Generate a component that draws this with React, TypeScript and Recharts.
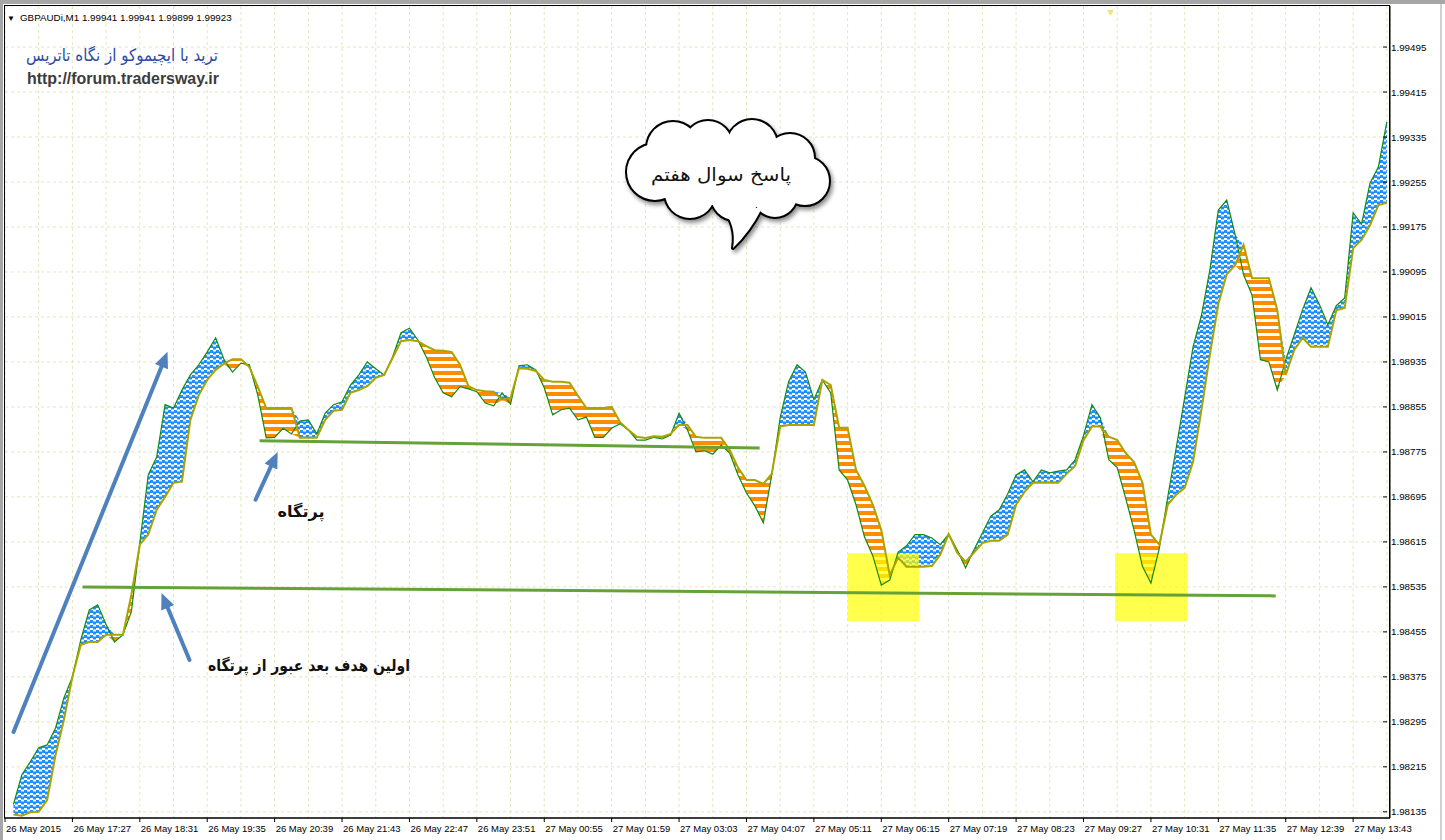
import {
  Area,
  CartesianGrid,
  ComposedChart,
  Line,
  ReferenceArea,
  ReferenceLine,
  XAxis,
  YAxis,
} from 'recharts';

// one sample every 8 one-minute bars
const SAMPLE_STEP = 8;

// green line (tenkan), samples 1..164
const tenkan = [
  1.98148, 1.98201, 1.98224, 1.98249, 1.98254, 1.98284, 1.98338, 1.98375,
  1.98441, 1.98494, 1.98503, 1.98468, 1.98437, 1.9845, 1.98491, 1.98613,
  1.98734, 1.98766, 1.98859, 1.98853, 1.98885, 1.98912, 1.9893, 1.98953,
  1.98978, 1.98939, 1.98917, 1.98933, 1.9893, 1.98876, 1.988, 1.98801,
  1.98817, 1.98807, 1.9883, 1.98832, 1.98807, 1.98844, 1.98859, 1.98864,
  1.98894, 1.98912, 1.98935, 1.98923, 1.98912, 1.98944, 1.98987, 1.98995,
  1.98974, 1.98944, 1.98907, 1.9888, 1.98873, 1.98891, 1.98887, 1.98882,
  1.98862, 1.98857, 1.9888, 1.9886, 1.98928, 1.9893, 1.98921, 1.98889,
  1.98841, 1.9885, 1.98853, 1.98832, 1.98837, 1.98801, 1.98801, 1.98817,
  1.98825, 1.98814, 1.98796, 1.98796, 1.98801, 1.98798, 1.98805, 1.98844,
  1.98814, 1.98775, 1.98777, 1.98771, 1.98787, 1.98773, 1.98734, 1.98702,
  1.98679, 1.98649, 1.98734, 1.98836, 1.989, 1.9893, 1.98917, 1.98868,
  1.98903, 1.9888, 1.98743, 1.98725, 1.98681, 1.98624, 1.9859, 1.98538,
  1.98547, 1.98597, 1.98608, 1.98628, 1.98628, 1.98622, 1.9861, 1.98629,
  1.98601, 1.98569, 1.98601, 1.98631, 1.98661, 1.98672, 1.987, 1.98734,
  1.98743, 1.98722, 1.98743, 1.98738, 1.98741, 1.98743, 1.98761, 1.98804,
  1.98859, 1.98836, 1.98761, 1.98747, 1.98693, 1.98636, 1.98571, 1.98542,
  1.98604, 1.98695, 1.98782, 1.98871, 1.98962, 1.99018, 1.99099, 1.99205,
  1.99223, 1.99161, 1.9909, 1.99054, 1.98939, 1.98935, 1.98885, 1.98939,
  1.98983, 1.99028, 1.99067, 1.99037, 1.99001, 1.99035, 1.99049, 1.992,
  1.9918, 1.99253, 1.99282, 1.99362,
];

// olive line (kijun), same samples
const kijun = [
  1.9813, 1.98128, 1.98134, 1.98135, 1.98156, 1.98236, 1.98299, 1.98375,
  1.98432, 1.98437, 1.98437, 1.9845, 1.9845, 1.9845, 1.98521, 1.9861,
  1.98628, 1.98672, 1.98695, 1.9872, 1.98722, 1.98832, 1.98876, 1.98903,
  1.98921, 1.98932, 1.9894, 1.9894, 1.98926, 1.98891, 1.98853, 1.98853,
  1.98853, 1.98853, 1.988, 1.988, 1.988, 1.98832, 1.98848, 1.9885,
  1.9888, 1.98885, 1.98892, 1.98907, 1.98912, 1.98942, 1.98972, 1.98974,
  1.98972, 1.98963, 1.98956, 1.98955, 1.98953, 1.9893, 1.98892, 1.98885,
  1.98883, 1.98882, 1.98868, 1.98871, 1.98924, 1.98923, 1.98919, 1.98903,
  1.989, 1.989, 1.98898, 1.98875, 1.98853, 1.98853, 1.98853, 1.98855,
  1.98828, 1.98814, 1.98802, 1.988, 1.98803, 1.98802, 1.98807, 1.98823,
  1.98823, 1.98802, 1.988, 1.988, 1.988, 1.98779, 1.98747, 1.98725,
  1.98725, 1.98718, 1.98736, 1.9882, 1.98823, 1.98823, 1.98823, 1.98823,
  1.98903, 1.98894, 1.98818, 1.98818, 1.98743, 1.98715, 1.98681, 1.98636,
  1.98556, 1.98587, 1.98571, 1.98571, 1.98571, 1.98572, 1.98592, 1.98629,
  1.98596, 1.9858, 1.98596, 1.98613, 1.98617, 1.98617, 1.98628, 1.98681,
  1.98704, 1.9872, 1.9872, 1.9872, 1.9872, 1.98736, 1.9875, 1.98796,
  1.9882, 1.9882, 1.98802, 1.98796, 1.98773, 1.98757, 1.9872, 1.98628,
  1.9861, 1.98681, 1.98699, 1.98711, 1.98757, 1.9885, 1.98948, 1.99038,
  1.99091, 1.99107, 1.99143, 1.99084, 1.99084, 1.99084, 1.99027, 1.98912,
  1.98956, 1.98978, 1.98962, 1.98962, 1.98962, 1.99027, 1.99031, 1.99137,
  1.99152, 1.99178, 1.99214, 1.99218,
];

const timeLabels = [
  '26 May 2015', '26 May 17:27', '26 May 18:31', '26 May 19:35', '26 May 20:39',
  '26 May 21:43', '26 May 22:47', '26 May 23:51', '27 May 00:55', '27 May 01:59',
  '27 May 03:03', '27 May 04:07', '27 May 05:11', '27 May 06:15', '27 May 07:19',
  '27 May 08:23', '27 May 09:27', '27 May 10:31', '27 May 11:35', '27 May 12:39',
  '27 May 13:43',
];

const priceTicks = [
  1.98135, 1.98215, 1.98295, 1.98375, 1.98455, 1.98535, 1.98615, 1.98695, 1.98775,
  1.98855, 1.98935, 1.99015, 1.99095, 1.99175, 1.99255, 1.99335, 1.99415, 1.99495,
];

// drawn objects on the chart, in bar / price units
const levelLines = [
  { from: [241.7, 1.98795], to: [716.5, 1.98782] },
  { from: [73.6, 1.98535], to: [1206.5, 1.98519] },
];
const arrows = [
  { from: [8.1, 1.98277], to: [154.3, 1.98953] },
  { from: [237.9, 1.9869], to: [258.9, 1.98775] },
  { from: [175.2, 1.98405], to: [148.6, 1.98524] },
];
const focusZones = [
  { x1: 800, x2: 868, y1: 1.98474, y2: 1.98595 },
  { x1: 1054, x2: 1123, y1: 1.98474, y2: 1.98595 },
];

const LABEL_STEP = 64;
const gridTicks = Array.from({ length: 42 }, (_, i) => i * 32);

const chartData = tenkan.map((t, i) => ({
  bar: SAMPLE_STEP * (i + 1),
  tenkan: t,
  kijun: kijun[i],
  bull: [kijun[i], Math.max(t, kijun[i])],
  bear: [Math.min(t, kijun[i]), kijun[i]],
}));

const ARROW = '#4f81bd';
const AXIS_FONT = '"Liberation Sans", Arial, sans-serif';
const FA_FONT = '"DejaVu Sans", sans-serif';

function TimeTick({ x, y, payload }: any) {
  if (payload.value % LABEL_STEP !== 0) return <g />;
  const label = timeLabels[payload.value / LABEL_STEP];
  return (
    <g>
      <line x1={x} x2={x} y1={y} y2={y + 4} stroke="#000" />
      <text x={x + 1} y={y + 14} fontSize={9.5} fontFamily={AXIS_FONT} fill="#000" textAnchor="start">
        {label}
      </text>
    </g>
  );
}

function PriceTick({ x, y, payload }: any) {
  return (
    <g>
      <line x1={x - 7} x2={x - 3} y1={y} y2={y} stroke="#000" />
      <text x={x + 1} y={y + 3.5} fontSize={9.8} fontFamily={AXIS_FONT} fill="#000">
        {payload.value.toFixed(5)}
      </text>
    </g>
  );
}

function ArrowShape(props: any) {
  const { x1, y1, x2, y2 } = props;
  const ang = Math.atan2(y2 - y1, x2 - x1);
  const head = 16;
  const half = 7;
  const bx = x2 - head * Math.cos(ang);
  const by = y2 - head * Math.sin(ang);
  const px = -Math.sin(ang) * half;
  const py = Math.cos(ang) * half;
  return (
    <g>
      <line x1={x1} y1={y1} x2={bx} y2={by} stroke={ARROW} strokeWidth={4} strokeLinecap="round" />
      <polygon points={`${x2},${y2} ${bx + px},${by + py} ${bx - px},${by - py}`} fill={ARROW} />
    </g>
  );
}

const cloudBumps = [
  [655, 172, 28],
  [673, 148, 26],
  [708, 145, 24],
  [752, 145, 25],
  [790, 158, 24],
  [805, 181, 24],
  [775, 195, 22],
  [735, 196, 24],
  [690, 193, 25],
];
const tailPath = 'M 722 208 Q 737 226 733 248 Q 750 232 762 208 Z';

function Cloud() {
  return (
    <g filter="url(#cloudShadow)">
      {cloudBumps.map(([cx, cy, r], i) => (
        <circle key={`s${i}`} cx={cx} cy={cy} r={r} fill="#000" stroke="#000" strokeWidth={4} />
      ))}
      <path d={tailPath} fill="#000" stroke="#000" strokeWidth={4} strokeLinejoin="round" />
      {cloudBumps.map(([cx, cy, r], i) => (
        <circle key={`f${i}`} cx={cx} cy={cy} r={r} fill="#fff" />
      ))}
      <ellipse cx={730} cy={172} rx={72} ry={34} fill="#fff" />
      <path d={tailPath} fill="#fff" />
    </g>
  );
}

export default function App() {
  return (
    <div style={{ position: 'absolute', left: 0, top: 0, width: 1445, height: 840, background: '#fff' }}>
      <ComposedChart
        width={1445}
        height={840}
        data={chartData}
        margin={{ top: 6, right: 0, bottom: 0, left: 5 }}
      >
        <defs>
          <pattern id="stripeBlue" width="6" height="5" patternUnits="userSpaceOnUse">
            <rect width="6" height="5" fill="#fff" />
            <rect x="0" y="0" width="3" height="3" fill="#1e90ff" />
            <rect x="3" y="1.5" width="3" height="3" fill="#1e90ff" />
          </pattern>
          <pattern id="stripeOrange" width="6" height="7" patternUnits="userSpaceOnUse">
            <rect width="6" height="7" fill="#fff" />
            <rect width="6" height="4" fill="#ff8c00" />
          </pattern>
        </defs>
        <CartesianGrid stroke="#e6e6bc" strokeDasharray="3 3" />
        <XAxis
          dataKey="bar"
          type="number"
          domain={[0, 1315]}
          ticks={gridTicks}
          interval={0}
          tickLine={false}
          tickSize={0}
          tickMargin={0}
          axisLine={{ stroke: '#000' }}
          tick={TimeTick}
          height={22}
          allowDataOverflow
        />
        <YAxis
          orientation="right"
          type="number"
          domain={[1.98124, 1.99568]}
          ticks={priceTicks}
          interval={0}
          tickLine={false}
          tickSize={0}
          tickMargin={0}
          axisLine={{ stroke: '#000' }}
          tick={PriceTick}
          width={55}
          allowDataOverflow
        />
        <Area
          dataKey="bull"
          type="linear"
          stroke="none"
          fill="url(#stripeBlue)"
          fillOpacity={1}
          dot={false}
          activeDot={false}
          isAnimationActive={false}
        />
        <Area
          dataKey="bear"
          type="linear"
          stroke="none"
          fill="url(#stripeOrange)"
          fillOpacity={1}
          dot={false}
          activeDot={false}
          isAnimationActive={false}
        />
        <Line dataKey="tenkan" type="linear" stroke="#138a13" strokeWidth={1.2} dot={false} isAnimationActive={false} />
        <Line dataKey="kijun" type="linear" stroke="#aaa400" strokeWidth={2} dot={false} isAnimationActive={false} />
        {focusZones.map((z, i) => (
          <ReferenceArea key={i} x1={z.x1} x2={z.x2} y1={z.y1} y2={z.y2} fill="#ffff00" fillOpacity={0.7} stroke="none" />
        ))}
        {levelLines.map((l, i) => (
          <ReferenceLine
            key={`lv${i}`}
            segment={[{ x: l.from[0], y: l.from[1] }, { x: l.to[0], y: l.to[1] }]}
            stroke="#65a33a"
            strokeWidth={3}
          />
        ))}
        {arrows.map((a, i) => (
          <ReferenceLine
            key={`ar${i}`}
            segment={[{ x: a.from[0], y: a.from[1] }, { x: a.to[0], y: a.to[1] }]}
            shape={ArrowShape}
          />
        ))}
      </ComposedChart>

      <svg
        width={1445}
        height={840}
        style={{ position: 'absolute', left: 0, top: 0, pointerEvents: 'none' }}
      >
        <defs>
          <filter id="cloudShadow" x="-20%" y="-20%" width="140%" height="140%">
            <feDropShadow dx="2" dy="3" stdDeviation="2" floodColor="#000" floodOpacity="0.45" />
          </filter>
        </defs>
        <rect x={0} y={0} width={1445} height={4} fill="#a6a6a6" />
        <rect x={0} y={0} width={3} height={840} fill="#a6a6a6" />
        <rect x={1440} y={4} width={2} height={836} fill="#d0d0d0" />
        <rect x={4.5} y={5.5} width={1385} height={812.5} fill="none" stroke="#000" />
        <polygon points="1107,10 1114,10 1110.5,16" fill="#f2e37a" />

        <text x={7} y={21} fontSize={8} fontFamily={AXIS_FONT} fill="#000">▼</text>
        <text x={20} y={21} fontSize={9.8} fontFamily={AXIS_FONT} fill="#000">
          GBPAUDi,M1  1.99941 1.99941 1.99899 1.99923
        </text>
        <text
          x={122}
          y={61}
          fontSize={17}
          fontFamily={FA_FONT}
          fill="#2c4aa6"
          textAnchor="middle"
          direction="rtl"
          textLength={192}
          lengthAdjust="spacingAndGlyphs"
        >
          ترید با ایچیموکو از نگاه تاتریس
        </text>
        <text
          x={27}
          y={84}
          fontSize={16.5}
          fontWeight="bold"
          fontFamily={AXIS_FONT}
          fill="#3c3c3c"
          textLength={192}
          lengthAdjust="spacingAndGlyphs"
        >
          http://forum.tradersway.ir
        </text>

        <Cloud />
        <text
          x={721}
          y={181}
          fontSize={18}
          fontFamily={FA_FONT}
          fill="#111"
          textAnchor="middle"
          direction="rtl"
          textLength={140}
          lengthAdjust="spacingAndGlyphs"
        >
          پاسخ سوال هفتم
        </text>

        <text
          x={301}
          y={517}
          fontSize={16}
          fontWeight="bold"
          fontFamily={FA_FONT}
          fill="#111"
          textAnchor="middle"
          direction="rtl"
          textLength={47}
          lengthAdjust="spacingAndGlyphs"
        >
          پرتگاه
        </text>
        <text
          x={309}
          y={671}
          fontSize={16}
          fontWeight="bold"
          fontFamily={FA_FONT}
          fill="#111"
          textAnchor="middle"
          direction="rtl"
          textLength={202}
          lengthAdjust="spacingAndGlyphs"
        >
          اولین هدف بعد عبور از پرتگاه
        </text>
      </svg>
    </div>
  );
}
